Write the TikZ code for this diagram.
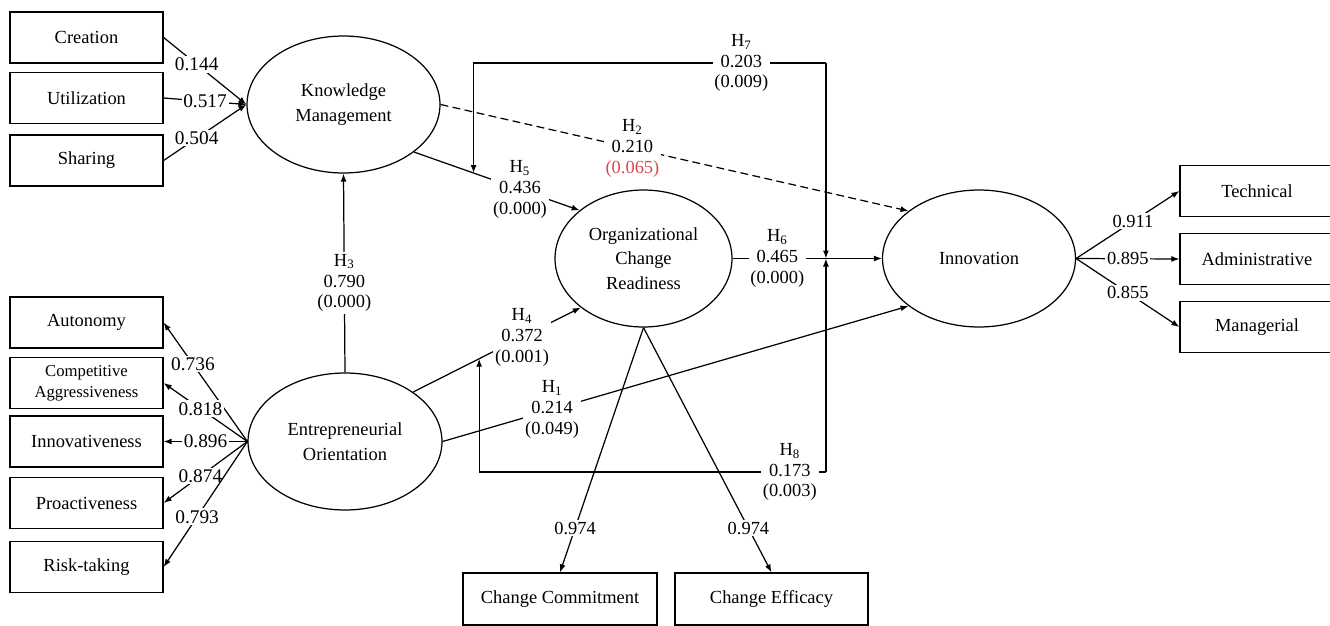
\documentclass[tikz,border=0pt]{standalone}
\usepackage{fontspec}
\setmainfont{Liberation Serif}
\usetikzlibrary{shapes.geometric,arrows.meta}
\definecolor{pathRed}{RGB}{214,72,84}

\begin{document}
\begin{tikzpicture}[x=0.02cm, y=-0.02cm, line width=0.7pt,
  box/.style={draw, minimum width=3.06cm, minimum height=1.02cm, inner sep=1pt, align=center, font=\fontsize{10.5}{12}\selectfont},
  latent/.style={draw, ellipse, inner sep=0pt, minimum height=2.74cm, align=center, font=\fontsize{10.5}{14}\selectfont},
  arr/.style={-{Latex[length=1.6mm,width=1.2mm]}},
  load/.style={fill=white, inner sep=1pt, font=\fontsize{11}{11}\selectfont},
  load2/.style={fill=white, inner sep=1pt, font=\fontsize{10.5}{11}\selectfont},
  hyp/.style={fill=white, inner sep=1pt, align=center, font=\fontsize{10.5}{11.9}\selectfont}]
  \useasboundingbox (0,0) rectangle (1330,626);
  \clip (0,0) rectangle (1330,626);

  % Knowledge Management indicators
  \node[box] (cre) at (86.5,37.5) {Creation};
  \node[box] (uti) at (86.5,98) {Utilization};
  \node[box] (sha) at (86.5,160.5) {Sharing};

  % Entrepreneurial Orientation indicators
  \node[box] (aut) at (86.5,322.5) {Autonomy};
  \node[box, font=\fontsize{9.5}{12}\selectfont] (com) at (86.5,383) {Competitive\\Aggressiveness};
  \node[box] (inv) at (86.5,441.5) {Innovativeness};
  \node[box] (pro) at (86.5,503) {Proactiveness};
  \node[box] (ris) at (86.5,567) {Risk-taking};

  % Latent variables
  \node[latent, minimum width=3.86cm] (km) at (343.5,104.5) {Knowledge\\Management};
  \node[latent, minimum width=3.88cm] (eo) at (345,441.5) {Entrepreneurial\\Orientation};
  \node[latent, minimum width=3.54cm] (ocr) at (643.5,258.5) {Organizational\\Change\\Readiness};
  \node[latent, minimum width=3.86cm] (inn) at (979,258.5) {Innovation};

  % Innovation indicators
  \node[box, minimum width=3.08cm] (tec) at (1257,191) {Technical};
  \node[box, minimum width=3.08cm] (adm) at (1257,259) {Administrative};
  \node[box, minimum width=3.08cm] (man) at (1257,327) {Managerial};

  % Readiness indicators
  \node[box, minimum width=3.88cm, minimum height=1.04cm] (cc) at (560,599) {Change Commitment};
  \node[box, minimum width=3.86cm, minimum height=1.04cm] (ce) at (771.5,599) {Change Efficacy};

  % Loadings
  \draw[arr] (cre.east) -- node[load, pos=0.4] {0.144} (km.west);
  \draw[arr] (uti.east) -- node[load] {0.517} (km.west);
  \draw[arr] (sha.east) -- node[load, pos=0.4] {0.504} (km.west);
  \draw[arr] (eo.west) -- node[load, pos=0.65] {0.736} (aut.east);
  \draw[arr] (eo.west) -- node[load, pos=0.56] {0.818} (com.east);
  \draw[arr] (eo.west) -- node[load] {0.896} (inv.east);
  \draw[arr] (eo.west) -- node[load, pos=0.56] {0.874} (pro.east);
  \draw[arr] (eo.west) -- node[load, pos=0.6] {0.793} (ris.east);
  \draw[arr] (inn.east) -- node[load2, pos=0.55] {0.911} (tec.west);
  \draw[arr] (inn.east) -- node[load2] {0.895} (adm.west);
  \draw[arr] (inn.east) -- node[load2] {0.855} (man.west);
  \draw[arr] (ocr.south) -- node[load2, pos=0.82] {0.974} (cc.north);
  \draw[arr] (ocr.south) -- node[load2, pos=0.82] {0.974} (ce.north);

  % Structural paths
  \draw[arr] (eo.north) -- node[hyp, pos=0.45] {H\textsubscript{3}\\0.790\\(0.000)} (km.south);
  \draw[arr] (km.-34) -- coordinate[pos=0.36] (h5m) node[hyp, pos=0.64] {H\textsubscript{5}\\0.436\\(0.000)} (ocr.143);
  \draw[arr] (eo.36) -- coordinate[pos=0.394] (h4m) node[hyp, pos=0.65] {H\textsubscript{4}\\0.372\\(0.001)} (ocr.218);
  \draw[arr] (eo.east) -- node[hyp, pos=0.235] {H\textsubscript{1}\\0.214\\(0.049)} (inn.214);
  \draw[arr, dash pattern=on 4.5pt off 2.5pt] (km.east) -- node[hyp, pos=0.41] {H\textsubscript{2}\\0.210\\\textcolor{pathRed}{(0.065)}} (inn.146);
  \draw[arr] (ocr.east) -- coordinate[pos=0.625] (h6m) node[hyp, pos=0.3] {H\textsubscript{6}\\0.465\\(0.000)} (inn.west);

  % Moderating paths
  \coordinate (m7) at (h6m |- 0,63);
  \coordinate (m8) at (h6m |- 0,472);
  \draw[arr] (m7) -- (h6m);
  \draw[arr] (m8) -- (h6m);
  \draw[arr] (m7) -| node[hyp, pos=0.12] {H\textsubscript{7}\\0.203\\(0.009)} (h5m);
  \draw[arr] (m8) -| node[hyp, pos=0.052] {H\textsubscript{8}\\0.173\\(0.003)} (h4m);
\end{tikzpicture}
\end{document}
